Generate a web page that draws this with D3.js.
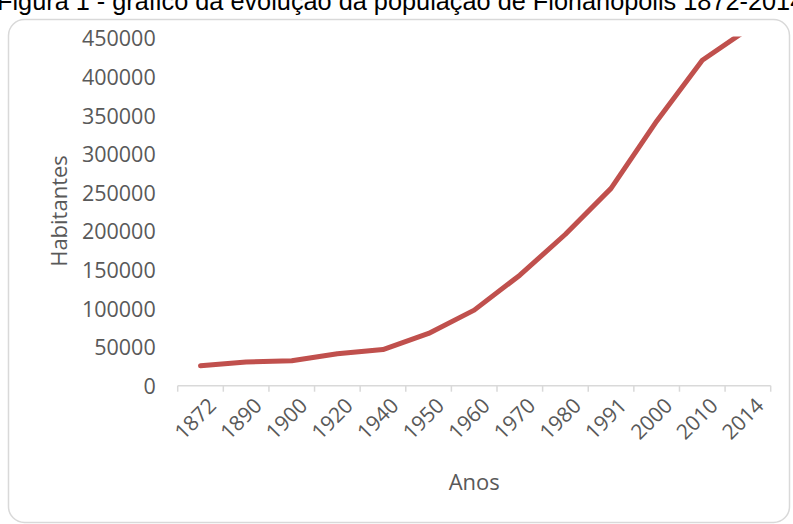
<!DOCTYPE html>
<html>
<head>
<meta charset="utf-8">
<script src="https://cdn.jsdelivr.net/npm/d3@7"></script>
<style>
  html, body { margin: 0; padding: 0; background: #fff; }
  svg { display: block; }
</style>
</head>
<body>
<svg id="chart" width="793" height="524"></svg>
<script>
// ---- data ----
const titleText = "Figura 1 - gráfico da evolução da população de Florianópolis 1872-2014";
const years = ["1872","1890","1900","1920","1940","1950","1960","1970","1980","1991","2000","2010","2014"];
const habitantes = [25709, 30687, 32229, 41338, 46771, 67630, 97827, 143000, 196000, 255390, 342315, 421240, 461524];
const yTicks = [0, 50000, 100000, 150000, 200000, 250000, 300000, 350000, 400000, 450000];
const xTitle = "Anos";
const yTitle = "Habitantes";

// ---- layout ----
const plot = { left: 177.7, right: 770.7, top: 38, bottom: 385.7 };
const svg = d3.select("#chart");
const font = "'Open Sans', sans-serif";
const gray = "#595959";
const axisGray = "#D9D9D9";
const lineColor = "#C0504D";

// title (partially cut off at top, as in the source image)
svg.append("text")
  .attr("x", -3).attr("y", 10)
  .attr("font-family", "'Liberation Sans', Arial, sans-serif")
  .attr("font-size", 25.3)
  .attr("fill", "#000")
  .text(titleText);

// card border
svg.append("rect")
  .attr("x", 8.5).attr("y", 19.5)
  .attr("width", 781).attr("height", 503)
  .attr("rx", 16).attr("ry", 16)
  .attr("fill", "none")
  .attr("stroke", axisGray).attr("stroke-width", 1.5);

const x = d3.scaleBand().domain(years).range([plot.left, plot.right]).paddingInner(0).paddingOuter(0);
const y = d3.scaleLinear().domain([0, 450000]).range([plot.bottom, plot.top]);

// y axis labels
const yAxis = d3.axisLeft(y).tickValues(yTicks).tickSize(0).tickPadding(0).tickFormat(d3.format("d"));
const gy = svg.append("g").attr("transform", `translate(${plot.left - 22},0)`).call(yAxis);
gy.select(".domain").remove();
gy.selectAll("text")
  .attr("font-family", font).attr("font-size", 21.5).attr("fill", gray)
  .attr("dy", "0.36em");

// x axis
const xAxis = d3.axisBottom(x).tickSize(0).tickFormat(d => d);
const gx = svg.append("g").attr("transform", `translate(0,${plot.bottom})`).call(xAxis);
gx.select(".domain").attr("stroke", axisGray).attr("stroke-width", 1.5)
  .attr("d", `M${plot.left},0H${plot.right}`);
gx.selectAll(".tick line").remove();
const bounds = years.map(d => x(d)).concat([plot.right]);
gx.selectAll("line.bound").data(bounds).enter().append("line")
  .attr("class", "bound")
  .attr("x1", d => d).attr("x2", d => d)
  .attr("y1", 0).attr("y2", 6)
  .attr("stroke", axisGray).attr("stroke-width", 1.5);
gx.selectAll(".tick text")
  .attr("font-family", font).attr("font-size", 21).attr("fill", gray)
  .attr("text-anchor", "end")
  .attr("x", 0).attr("y", 0).attr("dy", "0.35em")
  .attr("transform", `translate(${x.bandwidth()/2 - 11},16) rotate(-45)`);

// axis titles
svg.append("text")
  .attr("x", (plot.left + plot.right) / 2).attr("y", 490)
  .attr("text-anchor", "middle")
  .attr("font-family", font).attr("font-size", 22).attr("fill", gray)
  .text(xTitle);
svg.append("text")
  .attr("transform", `translate(67,211) rotate(-90)`)
  .attr("text-anchor", "middle")
  .attr("font-family", font).attr("font-size", 22).attr("fill", gray)
  .text(yTitle);

// clip
svg.append("clipPath").attr("id", "plotclip")
  .append("rect").attr("x", plot.left).attr("y", plot.top - 1.5)
  .attr("width", plot.right - plot.left).attr("height", plot.bottom - plot.top + 10);

// line
const line = d3.line()
  .x((d, i) => x(years[i]) + x.bandwidth() / 2)
  .y(d => y(d));
svg.append("path")
  .datum(habitantes)
  .attr("clip-path", "url(#plotclip)")
  .attr("d", line)
  .attr("fill", "none")
  .attr("stroke", lineColor)
  .attr("stroke-width", 5)
  .attr("stroke-linejoin", "round")
  .attr("stroke-linecap", "round");
</script>
</body>
</html>
